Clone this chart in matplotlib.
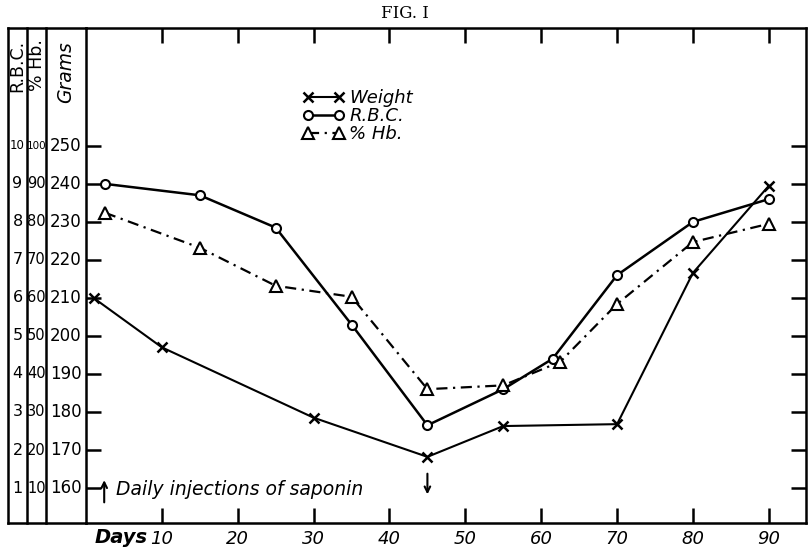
"""Fig. I — weight, R.B.C. and % Hb. during daily saponin injections"""
import matplotlib
matplotlib.use('Agg')
import matplotlib.pyplot as plt
from matplotlib.lines import Line2D

plt.rcParams.update({'font.family': 'DejaVu Sans', 'axes.linewidth': 1.8})

# data
weight_days = [1, 10, 30, 45, 55, 70, 80, 90]
weight_g = [210, 197, 178.5, 168.2, 176.3, 176.8, 216.6, 239.5]

blood_days_rbc = [2.5, 15, 25, 35, 45, 55, 61.5, 70, 80, 90]
rbc = [9.0, 8.7, 7.85, 5.3, 2.65, 3.6, 4.4, 6.6, 8.0, 8.6]

blood_days_hb = [2.5, 15, 25, 35, 45, 55, 62.5, 70, 80, 90]
hb = [82.4, 73.2, 63.2, 60.3, 36, 37, 43.2, 58.4, 74.7, 79.5]

grams_ticks = [160, 170, 180, 190, 200, 210, 220, 230, 240, 250]
rbc_ticks = [1, 2, 3, 4, 5, 6, 7, 8, 9, 10]
hb_ticks = [10, 20, 30, 40, 50, 60, 70, 80, 90, 100]
day_ticks = [10, 20, 30, 40, 50, 60, 70, 80, 90]

# R.B.C. and % Hb. share the grams scale: 1 -> 160 g, 10 % -> 160 g
rbc_g = [150 + 10 * v for v in rbc]
hb_g = [150 + v for v in hb]

W, H = 810, 550
fig = plt.figure(figsize=(8.1, 5.5), dpi=100)
bot, top = 1 - 523 / H, 1 - 28 / H
ax = fig.add_axes([86 / W, bot, (806 - 86) / W, top - bot])
ylim = (150.8, 281)
ax.set_xlim(0, 94.9)
ax.set_ylim(*ylim)

ax.plot(weight_days, weight_g, color='black', lw=1.5, marker='x', ms=7, mew=1.8,
        label='Weight', clip_on=False)
ax.plot(blood_days_rbc, rbc_g, color='black', lw=1.8, marker='o', ms=6.5, mew=1.5,
        mfc='white', label='R.B.C.')
ax.plot(blood_days_hb, hb_g, color='black', lw=1.6, marker='^', ms=8.5, mew=1.5,
        mfc='white', ls=(0, (5, 2.5, 1, 2.5)), label='% Hb.')

# ticks all drawn inward, no labels on y
ax.set_xticks(day_ticks)
ax.set_xticklabels([str(d) for d in day_ticks], fontsize=13, style='italic')
ax.set_yticks(grams_ticks)
ax.set_yticklabels([])
ax.tick_params(axis='both', direction='in', length=11, width=1.8, top=True, right=True,
               pad=5)

leg = ax.legend(loc='upper left', bbox_to_anchor=(0.278, 0.909), numpoints=2,
                frameon=False, handlelength=2.3, handletextpad=0.3, labelspacing=0.0,
                prop={'size': 13, 'style': 'italic'})

ax.text(4.6, -0.03, 'Days', transform=ax.get_xaxis_transform(), ha='center',
        va='center', fontsize=14, style='italic', fontweight='bold')

# injection period arrows
ax.annotate('', xy=(2.4, 162.8), xytext=(2.4, 155.5),
            arrowprops=dict(arrowstyle='->', lw=1.5, color='black'))
ax.text(3.9, 159.6, 'Daily injections of saponin', ha='left', va='center',
        fontsize=13.5, style='italic')
ax.annotate('', xy=(45, 157.6), xytext=(45, 164.5),
            arrowprops=dict(arrowstyle='->', lw=1.5, color='black'))

# left scale columns: R.B.C., % Hb., Grams
lab = fig.add_axes([8 / W, bot, (86 - 8) / W, top - bot])
lab.set_xlim(8, 86)
lab.set_ylim(*ylim)
lab.axis('off')
for xv in [8, 27, 46]:
    lab.add_line(Line2D([xv, xv], list(ylim), color='black', lw=1.8, clip_on=False))
lab.add_line(Line2D([8, 86], [ylim[1], ylim[1]], color='black', lw=1.8, clip_on=False))
lab.add_line(Line2D([8, 86], [ylim[0], ylim[0]], color='black', lw=1.8, clip_on=False))
for r, p, g in zip(rbc_ticks, hb_ticks, grams_ticks):
    lab.text(17.5, g, str(r), ha='center', va='center', fontsize=11.5 if r < 10 else 8.5)
    lab.text(36.5, g, str(p), ha='center', va='center', fontsize=10.5 if p < 100 else 7.5)
    lab.text(66, g, str(g), ha='center', va='center', fontsize=12)
lab.text(17.5, 278, 'R.B.C.', rotation=90, ha='center', va='top', fontsize=12.5)
lab.text(36.5, 278, '% Hb.', rotation=90, ha='center', va='top', fontsize=12.5)
lab.text(66, 277.5, 'Grams', rotation=90, ha='center', va='top', fontsize=13.5,
         style='italic')

fig.text(0.5, 1 - 14 / H, 'FIG. I', ha='center', va='center', fontsize=12,
         family='DejaVu Serif')

fig.savefig('out.png', dpi=100, facecolor='white')
